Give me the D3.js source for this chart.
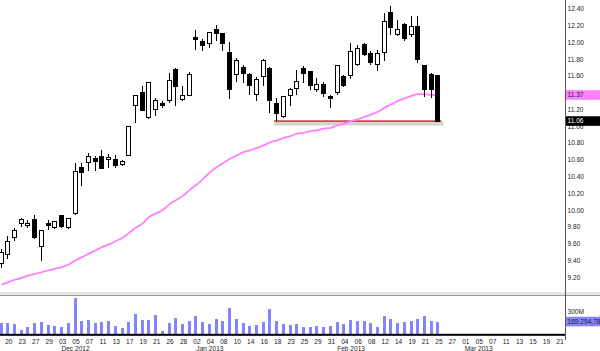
<!DOCTYPE html>
<html><head><meta charset="utf-8">
<script src="https://cdnjs.cloudflare.com/ajax/libs/d3/7.8.5/d3.min.js"></script>
<style>
html,body{margin:0;padding:0;background:#fff;}
svg{display:block;}
text{font-family:"Liberation Sans",Arial,sans-serif;}
</style></head>
<body>
<script>
const days = ["2012-11-19","2012-11-20","2012-11-21","2012-11-23","2012-11-26","2012-11-27","2012-11-28","2012-11-29","2012-11-30",
"2012-12-03","2012-12-04","2012-12-05","2012-12-06","2012-12-07","2012-12-10","2012-12-11","2012-12-12","2012-12-13","2012-12-14","2012-12-17","2012-12-18","2012-12-19","2012-12-20","2012-12-21","2012-12-24","2012-12-26","2012-12-27","2012-12-28","2012-12-31",
"2013-01-02","2013-01-03","2013-01-04","2013-01-07","2013-01-08","2013-01-09","2013-01-10","2013-01-11","2013-01-14","2013-01-15","2013-01-16","2013-01-17","2013-01-18","2013-01-22","2013-01-23","2013-01-24","2013-01-25","2013-01-28","2013-01-29","2013-01-30","2013-01-31",
"2013-02-01","2013-02-04","2013-02-05","2013-02-06","2013-02-07","2013-02-08","2013-02-11","2013-02-12","2013-02-13","2013-02-14","2013-02-15","2013-02-19","2013-02-20","2013-02-21","2013-02-22","2013-02-25"];
const futureDays = ["2013-02-26","2013-02-27","2013-02-28","2013-03-01","2013-03-04","2013-03-05","2013-03-06","2013-03-07","2013-03-08","2013-03-11","2013-03-12","2013-03-13","2013-03-14","2013-03-15","2013-03-18","2013-03-19","2013-03-20","2013-03-21"];

const opens = [9.36,9.47,9.67,9.84,9.82,9.89,9.57,9.84,9.79,
9.94,9.79,9.96,10.51,10.56,10.61,10.64,10.60,10.60,10.54,10.65,11.24,11.40,11.10,11.20,11.27,11.30,11.67,11.32,11.37,
12.06,12.01,11.98,12.15,12.10,11.88,11.61,11.70,11.61,11.38,11.59,11.69,11.27,11.12,11.37,11.45,11.69,11.65,11.43,11.49,11.35,
11.40,11.59,11.60,11.73,11.97,11.86,11.73,11.88,12.35,12.09,12.21,12.09,12.19,11.72,11.61,11.60];
const highs = [9.53,9.69,9.78,9.90,9.88,9.94,9.76,9.88,9.87,
9.94,9.91,10.56,10.56,10.68,10.64,10.72,10.67,10.66,10.60,11.00,11.36,11.48,11.53,11.34,11.30,11.63,11.69,11.48,11.65,
12.15,12.04,12.11,12.21,12.11,12.00,11.81,11.73,11.63,11.59,11.80,11.70,11.34,11.36,11.45,11.67,11.72,11.66,11.57,11.53,11.37,
11.73,11.61,11.99,11.97,11.99,11.89,11.91,12.35,12.43,12.27,12.23,12.31,12.31,11.73,11.63,11.61];
const lows = [9.31,9.41,9.63,9.80,9.79,9.65,9.39,9.76,9.77,
9.79,9.77,9.94,10.29,10.47,10.47,10.50,10.50,10.50,10.53,10.64,11.04,11.18,11.08,11.12,11.22,11.28,11.24,11.30,11.36,
11.91,11.89,11.93,12.01,11.89,11.32,11.53,11.51,11.37,11.30,11.48,11.16,11.06,11.10,11.24,11.37,11.51,11.43,11.41,11.35,11.22,
11.37,11.47,11.56,11.72,11.83,11.73,11.66,11.77,12.09,12.07,12.01,12.06,11.75,11.35,11.34,11.06];
const closes = [9.49,9.63,9.76,9.89,9.84,9.67,9.76,9.82,9.86,
9.80,9.90,10.46,10.45,10.64,10.58,10.50,10.62,10.53,10.58,11.00,11.36,11.19,11.52,11.30,11.25,11.54,11.47,11.37,11.61,
12.03,11.96,12.11,12.10,11.99,11.43,11.78,11.63,11.48,11.55,11.78,11.30,11.15,11.35,11.43,11.53,11.63,11.48,11.49,11.39,11.33,
11.72,11.48,11.89,11.93,11.85,11.76,11.86,12.25,12.17,12.15,12.04,12.19,11.79,11.43,11.43,11.06];
const volumesM = [146,154,132,57,101,146,159,123,110,
101,146,476,181,194,146,163,172,110,88,168,265,194,185,256,49,146,212,132,172,
247,159,132,203,172,353,203,146,110,123,163,335,181,141,123,132,101,93,106,93,106,
163,141,185,172,172,146,101,238,198,150,159,176,198,247,181,169.29478];
const movingAvg = [9.11,9.14,9.17,9.19,9.22,9.24,9.26,9.28,9.30,
9.32,9.35,9.40,9.44,9.48,9.52,9.56,9.59,9.63,9.67,9.73,9.79,9.84,9.92,9.96,10.00,10.07,10.12,10.17,10.24,
10.30,10.37,10.45,10.51,10.56,10.61,10.65,10.69,10.71,10.74,10.77,10.81,10.83,10.86,10.88,10.91,10.92,10.94,10.95,10.97,10.98,
11.01,11.03,11.06,11.08,11.11,11.14,11.17,11.22,11.26,11.30,11.33,11.36,11.38,11.38,11.37,11.37];

const tickDays = ["2012-11-20","2012-11-23","2012-11-27","2012-11-29","2012-12-03","2012-12-05","2012-12-07","2012-12-11","2012-12-13","2012-12-17","2012-12-19","2012-12-21","2012-12-26","2012-12-28",
"2013-01-02","2013-01-04","2013-01-08","2013-01-10","2013-01-14","2013-01-16","2013-01-18","2013-01-23","2013-01-25","2013-01-29","2013-01-31",
"2013-02-04","2013-02-06","2013-02-08","2013-02-12","2013-02-14","2013-02-19","2013-02-21","2013-02-25","2013-02-27",
"2013-03-01","2013-03-05","2013-03-07","2013-03-11","2013-03-13","2013-03-15","2013-03-19","2013-03-21"];
const monthLabels = ["Dec 2012","Jan 2013","Feb 2013","Mar 2013"];
const monthAnchors = ["2012-12-05","2013-01-04","2013-02-05","2013-03-05"];
const priceTicks = [9.2,9.4,9.6,9.8,10.0,10.2,10.4,10.6,10.8,11.0,11.2,11.4,11.6,11.8,12.0,12.2,12.4];
const volumeTicks = [300];
const supportLevel = 11.06;
const supportFrom = "2013-01-18", supportTo = "2013-02-25";

const W = 600, H = 351;
const svg = d3.select("body").append("svg").attr("width", W).attr("height", H);

const x = d3.scalePoint().domain(days.concat(futureDays)).range([1.6, 559.4]);
const y = d3.scaleLinear().domain([9.0, 12.4]).range([293.9, 8.6]);
const yv = d3.scaleLinear().domain([0, 300]).range([334.3, 311.7]);
const axisX = 565.5;

// panel separator
svg.append("rect").attr("x",0).attr("y",292).attr("width",W).attr("height",3).attr("fill","#e6e6e6");
svg.append("line").attr("x1",0).attr("x2",W).attr("y1",295.5).attr("y2",295.5).attr("stroke","#9a9a9a").attr("stroke-width",1);

const data = days.map((d,i)=>({d, o:opens[i], h:highs[i], l:lows[i], c:closes[i], v:volumesM[i], ma:movingAvg[i]}));

// support line with shadow
const sx1 = x(supportFrom) - 3, sx2 = x(supportTo) + 3;
svg.append("rect").attr("x", sx1).attr("y", y(supportLevel)+1).attr("width", sx2 - sx1 + 2).attr("height", 3.5).attr("fill","#d4d4d4");
svg.append("line").attr("x1", sx1).attr("x2", sx2).attr("y1", y(supportLevel)).attr("y2", y(supportLevel))
  .attr("stroke","#c0504d").attr("stroke-width",1.8);

// moving average
svg.append("path").datum(data)
  .attr("d", d3.line().x(d=>x(d.d)).y(d=>y(d.ma)).curve(d3.curveMonotoneX))
  .attr("fill","none").attr("stroke","#ff80ff").attr("stroke-width",1.8);

// candles
const cg = svg.append("g").attr("shape-rendering","crispEdges");
const cand = cg.selectAll("g").data(data).join("g");
cand.append("line")
  .attr("x1", d=>Math.round(x(d.d))-0.5).attr("x2", d=>Math.round(x(d.d))-0.5)
  .attr("y1", d=>y(d.h)).attr("y2", d=>y(d.l)).attr("stroke","#000").attr("stroke-width",1);
cand.append("rect")
  .attr("x", d=>Math.round(x(d.d))-2.5).attr("width", 4)
  .attr("y", d=>y(Math.max(d.o,d.c)))
  .attr("height", d=>Math.max(1, y(Math.min(d.o,d.c)) - y(Math.max(d.o,d.c))))
  .attr("fill", d=> d.c >= d.o ? "#fff" : "#000")
  .attr("stroke","#000").attr("stroke-width",1);

// volume bars
svg.append("g").attr("shape-rendering","crispEdges").selectAll("rect").data(data).join("rect")
  .attr("x", d=>Math.round(x(d.d))-2).attr("width",3)
  .attr("y", d=>yv(d.v)).attr("height", d=>yv(0)-yv(d.v)).attr("fill","#8484ff");

// bottom baseline
svg.append("rect").attr("x",0).attr("y",333.8).attr("width",axisX).attr("height",2).attr("fill","#000");

// x axis labels
const xAxis = d3.axisBottom(x).tickValues(tickDays).tickFormat(d=>d.slice(8)).tickSize(0).tickPadding(0);
const gx = svg.append("g").attr("transform","translate(0,339)").call(xAxis);
gx.select(".domain").remove();
gx.selectAll("text").attr("font-size","6.6px").attr("fill","#222").attr("dy","0.71em");

svg.append("g").selectAll("text").data(monthLabels).join("text")
  .attr("x",(d,i)=>x(monthAnchors[i])).attr("y",350.5).attr("text-anchor","middle")
  .attr("font-size","6.6px").attr("fill","#222").text(d=>d);

// right axis
svg.append("line").attr("x1",axisX).attr("x2",axisX).attr("y1",0).attr("y2",340).attr("stroke","#555").attr("stroke-width",1);
const yAxis = d3.axisRight(y).tickValues(priceTicks).tickFormat(d3.format(".2f")).tickSize(0).tickPadding(2);
const gy = svg.append("g").attr("transform",`translate(${axisX},0)`).call(yAxis);
gy.select(".domain").remove();
gy.selectAll("text").attr("font-size","6.6px").attr("fill","#222");

const gyv = svg.append("g").attr("transform",`translate(${axisX},0)`)
  .call(d3.axisRight(yv).tickValues(volumeTicks).tickFormat(d=>d+"M").tickSize(0).tickPadding(2));
gyv.select(".domain").remove();
gyv.selectAll("text").attr("font-size","6.6px").attr("fill","#222");

// value boxes
function box(val, yy, bg, fg, txt){
  svg.append("rect").attr("x",axisX+0.5).attr("y",yy-4.8).attr("width",W-axisX).attr("height",9.6).attr("fill",bg);
  svg.append("text").attr("x",axisX+2).attr("y",yy).attr("dy","0.34em").attr("font-size","6.6px").attr("fill",fg).text(txt);
}
box(movingAvg[movingAvg.length-1], y(movingAvg[movingAvg.length-1]), "#ff80ff", "#222", d3.format(".2f")(movingAvg[movingAvg.length-1]));
box(closes[closes.length-1], y(closes[closes.length-1]), "#000", "#fff", d3.format(".2f")(closes[closes.length-1]));
box(volumesM[volumesM.length-1], yv(volumesM[volumesM.length-1]), "#8484ff", "#222", d3.format(",")(Math.round(volumesM[volumesM.length-1]*1e6)));
</script>
</body></html>
